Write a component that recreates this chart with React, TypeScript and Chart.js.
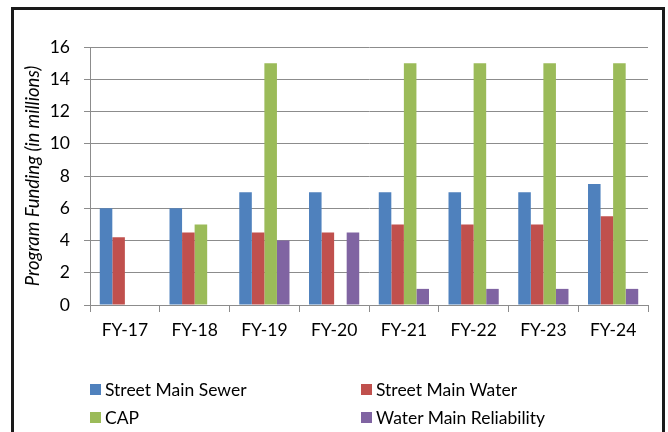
import React, { useEffect, useRef } from "react";
import { Chart, registerables } from "chart.js";

Chart.register(...registerables);

const categories = ["FY-17", "FY-18", "FY-19", "FY-20", "FY-21", "FY-22", "FY-23", "FY-24"];
const streetMainSewer = [6, 6, 7, 7, 7, 7, 7, 7.5];
const streetMainWater = [4.2, 4.5, 4.5, 4.5, 5, 5, 5, 5.5];
const cap = [0, 5, 15, 0, 15, 15, 15, 15];
const waterMainReliability = [0, 0, 4, 4.5, 1, 1, 1, 1];
const yTicks = [0, 2, 4, 6, 8, 10, 12, 14, 16];

const seriesNames = ["Street Main Sewer", "Street Main Water", "CAP", "Water Main Reliability"];
const seriesColors = ["#4F81BD", "#C0504D", "#9BBB59", "#8064A2"];
const seriesData = [streetMainSewer, streetMainWater, cap, waterMainReliability];

const FONT = "Lato, 'Open Sans', sans-serif";

export default function App() {
  const canvasRef = useRef<HTMLCanvasElement | null>(null);

  useEffect(() => {
    if (!canvasRef.current) return;
    const chart = new Chart(canvasRef.current, {
      type: "bar",
      data: {
        labels: categories,
        datasets: seriesNames.map((name, i) => ({
          label: name,
          data: seriesData[i],
          backgroundColor: seriesColors[i],
          borderWidth: 0,
          categoryPercentage: 0.72,
          barPercentage: 1,
        })),
      },
      options: {
        animation: false,
        responsive: false,
        maintainAspectRatio: false,
        layout: { padding: { left: 20, top: 47, right: 20, bottom: 90 } },
        plugins: {
          legend: { display: false },
          tooltip: { enabled: false },
        },
        scales: {
          x: {
            grid: {
              display: true,
              drawOnChartArea: false,
              drawTicks: true,
              tickLength: 7,
              color: "#8c8c8c",
              offset: true,
            },
            border: { color: "#8c8c8c", width: 1 },
            ticks: {
              color: "#000",
              font: { family: FONT, size: 17.5 },
              padding: 8,
              maxRotation: 0,
            },
            afterFit: (scale: any) => {
              scale.height = 37;
            },
          },
          y: {
            min: 0,
            max: 16,
            afterBuildTicks: (scale: any) => {
              scale.ticks = yTicks.map((v) => ({ value: v }));
            },
            grid: {
              color: "#8c8c8c",
              tickLength: 6,
              drawTicks: true,
            },
            border: { color: "#8c8c8c", width: 1 },
            ticks: {
              color: "#000",
              font: { family: FONT, size: 17.5 },
              padding: 14,
            },
            title: {
              display: true,
              text: "Program Funding (in millions)",
              color: "#000",
              font: { family: FONT, size: 18.5, style: "italic" },
              padding: { top: 2, bottom: 0 },
            },
            afterFit: (scale: any) => {
              scale.width = 70;
            },
          },
        },
      },
    });
    return () => chart.destroy();
  }, []);

  return (
    <div
      style={{
        position: "fixed",
        left: 0,
        top: 0,
        width: 668,
        height: 432,
        background: "#fff",
        overflow: "hidden",
      }}
    >
      <div
        style={{
          position: "absolute",
          left: 11,
          top: 7,
          width: 654,
          height: 440,
          border: "3px solid #1a1a1a",
          boxSizing: "border-box",
        }}
      />
      <canvas
        ref={canvasRef}
        width={668}
        height={432}
        style={{ position: "absolute", left: 0, top: 0, width: 668, height: 432 }}
      />
      {seriesNames.map((name, i) => {
        const col = i % 2;
        const row = Math.floor(i / 2);
        return (
          <div
            key={name}
            style={{
              position: "absolute",
              left: col === 0 ? 90 : 361,
              top: row === 0 ? 377 : 405,
              height: 24,
              display: "flex",
              alignItems: "center",
              fontFamily: FONT,
              fontSize: 17.5,
              color: "#000",
              whiteSpace: "nowrap",
            }}
          >
            <span
              style={{
                display: "inline-block",
                width: 11,
                height: 11,
                background: seriesColors[i],
                marginRight: 4,
              }}
            />
            <span>{name}</span>
          </div>
        );
      })}
    </div>
  );
}
